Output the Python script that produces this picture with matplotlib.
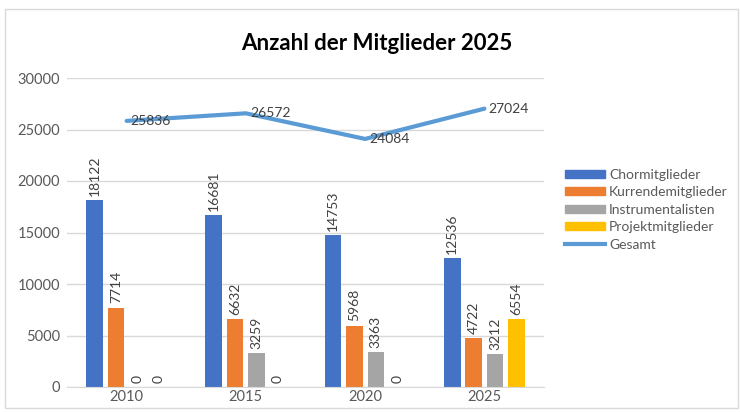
import matplotlib.pyplot as plt
import numpy as np
from matplotlib.patches import Rectangle
from matplotlib.lines import Line2D

plt.rcParams['font.family'] = ['Lato', 'DejaVu Sans']

# data
jahre = ["2010", "2015", "2020", "2025"]
chor = [18122, 16681, 14753, 12536]
kurrende = [7714, 6632, 5968, 4722]
instrumental = [0, 3259, 3363, 3212]
projekt = [0, 0, 0, 6554]
gesamt = [25836, 26572, 24084, 27024]

serien = [("Chormitglieder", chor, "#4472C4"),
          ("Kurrendemitglieder", kurrende, "#ED7D31"),
          ("Instrumentalisten", instrumental, "#A5A5A5"),
          ("Projektmitglieder", projekt, "#FFC000")]

fig = plt.figure(figsize=(7.4, 4.12), dpi=100)
# light chart border
fig.patches.append(Rectangle((5/740, 4/412), 733/740, 399/412, transform=fig.transFigure,
                             fill=False, edgecolor="#D9D9D9", linewidth=1))

ax = fig.add_axes([67/740, 25/412, 477/740, 309/412])

x = np.arange(len(jahre))
step = 0.18
width = 0.14
txt = "#404040"

handles = []
for i, (name, vals, col) in enumerate(serien):
    pos = x + (i - 1.5) * step
    bars = ax.bar(pos, vals, width, color=col, label=name, zorder=2)
    for b, v in zip(bars, vals):
        ax.annotate(str(v), (b.get_x() + b.get_width() / 2, v), xytext=(0, 3),
                    textcoords="offset points", rotation=90, ha="center", va="bottom",
                    fontsize=10, color=txt)
    handles.append(Rectangle((0, 0), 1, 1, color=col))

ax.plot(x, gesamt, color="#5B9BD5", linewidth=3, zorder=3, solid_capstyle="round")
for xi, v in zip(x, gesamt):
    ax.annotate(str(v), (xi, v), xytext=(3, 0), textcoords="offset points",
                ha="left", va="center", fontsize=10, color=txt, zorder=4)
handles.append(Line2D([0], [0], color="#5B9BD5", linewidth=3))

ax.set_xlim(-0.5, len(jahre) - 0.5)
ax.set_ylim(0, 30000)
ax.set_yticks(range(0, 30001, 5000))
ax.set_xticks(x)
ax.set_xticklabels(jahre)
ax.tick_params(axis="both", length=0, labelsize=10.5, labelcolor="#595959")
ax.tick_params(axis="y", pad=5)
ax.tick_params(axis="x", pad=2)
ax.grid(axis="y", color="#D9D9D9", linewidth=1, zorder=0)
for s in ["top", "right", "left"]:
    ax.spines[s].set_visible(False)
ax.spines["bottom"].set_color("#D9D9D9")

fig.text(377/740, 1 - 43/412, "Anzahl der Mitglieder 2025", ha="center", va="center",
         fontsize=16, fontweight="bold", color="#000000")

fig.legend(handles, [s[0] for s in serien] + ["Gesamt"], loc="upper left",
           bbox_to_anchor=(552/740, 1 - 156/412), frameon=False, fontsize=10,
           handlelength=2.9, handleheight=0.5, handletextpad=0.3, labelspacing=0.4,
           labelcolor="#595959")

fig.savefig("out.png", dpi=100)
